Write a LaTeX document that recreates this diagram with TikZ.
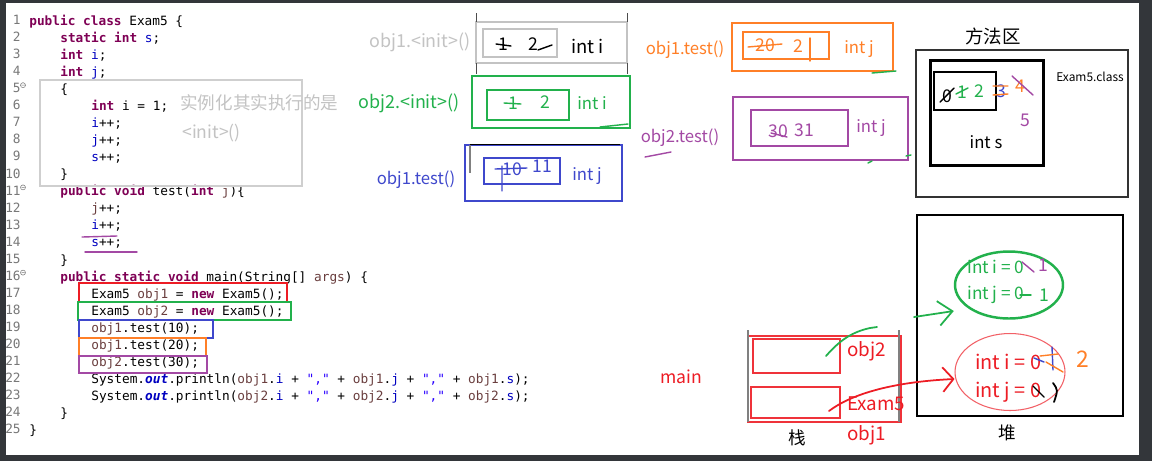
\documentclass[tikz,border=0pt]{standalone}
\usepackage{fontspec}
\setmainfont{Noto Sans CJK SC}
\setmonofont{DejaVu Sans Mono}
\usetikzlibrary{shapes.geometric,positioning,arrows.meta}
\definecolor{kw}{HTML}{7F0055}
\definecolor{fld}{HTML}{0000C0}
\definecolor{loc}{HTML}{6A3E3E}
\definecolor{str}{HTML}{2A00FF}
\definecolor{lno}{HTML}{787878}
\definecolor{jred}{HTML}{ED1C24}
\definecolor{jgreen}{HTML}{22B14C}
\definecolor{jblue}{HTML}{3F48CC}
\definecolor{jorange}{HTML}{FF7F27}
\definecolor{jpurple}{HTML}{A349A4}
\definecolor{jgray}{HTML}{C3C3C3}
\definecolor{darkbg}{HTML}{33363A}
\newcommand{\codefont}{\fontsize{7.27}{9}\ttfamily}
\newcommand{\tagfont}{\fontsize{9.5}{11}\selectfont}
\newcommand{\handfont}{\fontsize{10}{12}\selectfont}
\newcommand{\jkw}[1]{\textcolor{kw}{\bfseries #1}}
\newcommand{\jfd}[1]{\textcolor{fld}{#1}}
\newcommand{\jlv}[1]{\textcolor{loc}{#1}}
\newcommand{\jstr}[1]{\textcolor{str}{#1}}
\newcommand{\jout}[1]{\textcolor{fld}{\bfseries\itshape #1}}
\tikzset{
  code/.style={anchor=west, inner sep=0pt, font=\codefont, text height=1.6ex, text depth=.45ex},
  lnum/.style={anchor=east, inner sep=0pt, text=lno, font=\codefont},
  tag/.style={inner sep=0pt, font=\tagfont},
  hand/.style={inner sep=0pt, font=\handfont},
  box/.style={line width=1.3pt},
  thinbox/.style={line width=0.6pt},
  pen/.style={line width=0.8pt, line cap=round},
}
\begin{document}
\begin{tikzpicture}[x=0.02cm, y=-0.02cm]
\useasboundingbox (0,0) rectangle (1152,461);
% Rahmen
\fill[darkbg] (0,0) rectangle (1152,461);
\fill[white] (6,3) rectangle (1139,455);

% Zeilennummern
\foreach \n in {1,...,25}
  \node[lnum] (ln\n) at (21,{20+17.04*(\n-1)}) {\n};
\foreach \n in {5,11,16}
  \draw[lno, line width=0.3pt] ({23},{17+17.04*(\n-1)}) circle (2.5) ++(-1.5,0) -- ++(3,0);

% Quelltext
\node[code] (c1) at (29,20.0) {\jkw{public} \jkw{class} Exam5 \{};
\node[code] (c2) at (60,37.0) {\jkw{static} \jkw{int} \jfd{s};};
\node[code] (c3) at (60,54.1) {\jkw{int} \jfd{i};};
\node[code] (c4) at (60,71.1) {\jkw{int} \jfd{j};};
\node[code] (c5) at (60,88.2) {\{};
\node[code] (c6) at (91,105.2) {\jkw{int} i = 1;};
\node[code] (c7) at (91,122.2) {\jfd{i}++;};
\node[code] (c8) at (91,139.3) {\jfd{j}++;};
\node[code] (c9) at (91,156.3) {\jfd{s}++;};
\node[code] (c10) at (60,173.4) {\}};
\node[code] (c11) at (60,190.4) {\jkw{public} \jkw{void} test(\jkw{int} \jlv{j})\{};
\node[code] (c12) at (91,207.4) {\jlv{j}++;};
\node[code] (c13) at (91,224.5) {\jfd{i}++;};
\node[code] (c14) at (91,241.5) {\jfd{s}++;};
\node[code] (c15) at (60,258.6) {\}};
\node[code] (c16) at (60,275.6) {\jkw{public} \jkw{static} \jkw{void} main(String[] \jlv{args}) \{};
\node[code] (c17) at (91,292.6) {Exam5 \jlv{obj1} = \jkw{new} Exam5();};
\node[code] (c18) at (91,309.7) {Exam5 \jlv{obj2} = \jkw{new} Exam5();};
\node[code] (c19) at (91,326.7) {\jlv{obj1}.test(10);};
\node[code] (c20) at (91,343.8) {\jlv{obj1}.test(20);};
\node[code] (c21) at (91,360.8) {\jlv{obj2}.test(30);};
\node[code] (c22) at (91,377.8) {System.\jout{out}.println(\jlv{obj1}.\jfd{i} + \jstr{","} + \jlv{obj1}.\jfd{j} + \jstr{","} + \jlv{obj1}.\jfd{s});};
\node[code] (c23) at (91,394.9) {System.\jout{out}.println(\jlv{obj2}.\jfd{i} + \jstr{","} + \jlv{obj2}.\jfd{j} + \jstr{","} + \jlv{obj2}.\jfd{s});};
\node[code] (c24) at (60,411.9) {\}};
\node[code] (c25) at (29,429.0) {\}};

% Markierungen im Quelltext
\draw[jgray!80, line width=1.1pt] (40,80) rectangle (302,186);
\node[anchor=west, inner sep=0pt, text=jgray, font=\fontsize{10}{12}\selectfont] (note1) at (180,103) {实例化其实执行的是};
\node[anchor=west, inner sep=0pt, text=jgray, font=\fontsize{10}{12}\selectfont] (note2) at (182,133) {<init>()};
\draw[jred, thinbox] (79,283) rectangle (287,302);
\draw[jgreen, box] (78,302) rectangle (291,320);
\draw[jblue, box] (79,320) rectangle (213,338);
\draw[jorange, box] (79,338) rectangle (206,356);
\draw[jpurple, box] (79,356) rectangle (207,373);
\draw[jpurple, pen] (82,237) -- (117,236);
\draw[jpurple, pen] (85,252) -- (137,252);

% Methodenaufrufe (Stapelrahmen)
\node[tag, text=jgray, font=\fontsize{10.2}{12}\selectfont] (lbA) at (420,42) {obj1.<init>()};
\draw[jgray, box] (476,22) rectangle (627,63);
\draw[jgray, box] (483,29) rectangle (557,57);
\draw[black!70, line width=0.5pt] (476,13) -- (476,22) (476,63) -- (476,74)
  (627,13) -- (627,22) (627,63) -- (627,74);
\node[tag, anchor=west, font=\fontsize{10.5}{12}\selectfont] (vA) at (571,46) {int i};
\node[hand] (hA1) at (503,44) {1};
\draw[pen] (496,44) -- (511,46);
\node[hand] (hA2) at (533,44) {2};
\draw[pen] (538,50) -- (552,45);

\node[tag, text=jgreen, font=\fontsize{10.2}{12}\selectfont] (lbB) at (409,103) {obj2.<init>()};
\draw[jgreen, box] (472,76) rectangle (630,128);
\draw[jgreen, box] (487,90) rectangle (569,120);
\node[tag, anchor=west, text=jgreen] (vB) at (577,103) {int i};
\node[hand, text=jgreen] (hB1) at (513,103) {1};
\draw[jgreen, pen] (504,103) -- (521,104);
\node[hand, text=jgreen] (hB2) at (545,102) {2};
\draw[jgreen, pen] (600,127) -- (628,124);

\node[tag, text=jblue] (lbC) at (416,180) {obj1.test()};
\draw[jblue, box] (465,145) rectangle (622,201);
\draw[black, line width=0.5pt] (470,144) -- (620,144);
\draw[gray, line width=0.8pt] (470,145) -- (470,173);
\draw[jblue, box] (484,158) rectangle (560,184);
\node[tag, anchor=west, text=jblue] (vC) at (572,176) {int j};
\node[hand, text=jblue] (hC1) at (512,169) {10};
\draw[jblue, pen] (495,169) -- (527,168) (502,166) -- (502,191);
\node[hand, text=jblue] (hC2) at (542,166) {11};

\node[tag, text=jorange] (lbD) at (685,50) {obj1.test()};
\draw[jorange, box] (732,23) rectangle (893,71);
\draw[jorange, box] (743,32) rectangle (829,59);
\node[tag, anchor=west, text=jorange] (vD) at (844,49) {int j};
\node[hand, text=jorange] (hD1) at (765,45) {20};
\draw[jorange, pen] (748,47) -- (782,44);
\node[hand, text=jorange] (hD2) at (798,46) {2};
\draw[jorange, pen] (810,38) -- (810,61);
\draw[jgreen, pen] (872,73) -- (896,71);

\node[tag, text=jpurple] (lbE) at (680,138) {obj2.test()};
\draw[jpurple, pen] (645,157) -- (671,152);
\draw[jpurple, box] (733,97) rectangle (908,160);
\draw[jpurple, box] (751,110) rectangle (848,146);
\node[tag, anchor=west, text=jpurple] (vE) at (856,128) {int j};
\node[hand, text=jpurple] (hE1) at (778,131) {30};
\draw[jpurple, pen] (771,133) -- (787,137);
\node[hand, text=jpurple] (hE2) at (804,130) {31};
\draw[jgreen, pen] (868,163) -- (872,161) (906,156) -- (911,155);

% Methodenbereich
\node[font=\fontsize{10.5}{12}\selectfont, inner sep=0pt] (mArea) at (993,36) {方法区};
\draw[black!80, thinbox] (916,50) rectangle (1128,197);
\draw[black, line width=1.7pt] (930,60) rectangle (1043,165);
\draw[black, line width=1.2pt] (934,72) rectangle (996,110);
\node[font=\fontsize{6.8}{8}\selectfont, inner sep=0pt] (cls) at (1090,77) {Exam5.class};
\node[tag] (vS) at (986,142) {int s};
\node[hand] (hS0) at (947,96) {0};
\draw[pen] (940,102) -- (954,88);
\node[hand, text=jgreen] (hS1) at (962,92) {1};
\draw[jgreen, pen] (956,94) -- (968,88);
\node[hand, text=jgreen] (hS2) at (979,91) {2};
\node[hand, text=jblue] (hS3) at (1001,91) {3};
\draw[jorange, pen] (993,86) -- (1008,86) (993,95) -- (1008,94);
\node[hand, text=jorange] (hS4) at (1020,86) {4};
\draw[jpurple, pen] (1012,76) -- (1033,95);
\node[hand, text=jpurple] (hS5) at (1025,120) {5};

% Heap
\draw[black, thinbox] (917,215) rectangle (1123,416);
\node[draw=jgreen, line width=1.4pt, ellipse, minimum width=2.16cm, minimum height=1.34cm] (objB) at (1009,285) {};
\node[anchor=west, inner sep=0pt, text=jgreen, font=\fontsize{9.8}{11}\selectfont] (bi) at (967,267) {int i = 0};
\draw[jpurple, pen] (1022,262) -- (1034,272);
\node[hand, text=jpurple] (bi1) at (1043,265) {1};
\node[anchor=west, inner sep=0pt, text=jgreen, font=\fontsize{9.8}{11}\selectfont] (bj) at (967,295) {int j = 0};
\draw[jgreen, pen] (1020,295) -- (1031,295);
\node[hand, text=jgreen] (bj1) at (1044,295) {1};

\node[draw=jred!70, line width=0.6pt, ellipse, minimum width=2.2cm, minimum height=1.54cm] (objA) at (1010,372) {};
\node[anchor=west, inner sep=0pt, text=jred, font=\fontsize{11.3}{13}\selectfont] (ai) at (975,362) {int i = 0};
\draw[jblue, pen] (1034,358) -- (1044,362) (1052,347) -- (1053,370);
\draw[jorange, pen] (1040,356) -- (1058,354) (1046,362) -- (1063,372);
\node[font=\fontsize{13}{14}\selectfont, inner sep=0pt, text=jorange] (ai2) at (1083,359) {2};
\node[anchor=west, inner sep=0pt, text=jred, font=\fontsize{11.3}{13}\selectfont] (aj) at (975,392) {int j = 0};
\draw[pen] (1033,386) -- (1044,397);
\draw[pen, line width=1pt] (1053,383) .. controls (1058,390) .. (1054,402);
\node[font=\fontsize{10}{12}\selectfont, inner sep=0pt] (heap) at (1007,433) {堆};

% Stack
\node[text=jred, font=\fontsize{10}{12}\selectfont, inner sep=0pt] (mainlb) at (681,377) {main};
\draw[jred!90, thinbox] (748,336) rectangle (901,422);
\draw[gray, line width=0.8pt] (748,330) -- (748,422) (899,330) -- (899,422);
\draw[jred!90, thinbox] (753,339) rectangle (840,373);
\draw[jred!90, thinbox] (751,387) rectangle (840,418);
\coordinate (slot2) at (826,356);
\coordinate (slot1) at (829,411);
\node[anchor=west, inner sep=0pt, text=jred, font=\fontsize{10.7}{12}\selectfont] (o2) at (847,351) {obj2};
\node[anchor=west, inner sep=0pt, text=jred, font=\fontsize{10.7}{12}\selectfont] (o5) at (847,404) {Exam5};
\node[anchor=west, inner sep=0pt, text=jred, font=\fontsize{10.7}{12}\selectfont] (o1) at (847,435) {obj1};
\node[font=\fontsize{10}{12}\selectfont, inner sep=0pt] (stack) at (797,438) {栈};

% Verweise
\coordinate (g1) at (870,328);
\coordinate (g2) at (914,317);
\draw[jgreen, pen, line width=1pt] (slot2) .. controls (840,340) and (852,332) .. (g1) -- (877,327);
\draw[jgreen, pen, line width=1pt, -{Straight Barb[length=8pt, width=14pt]}] (g2) -- (objB.west |- 0,311);
\draw[jred, pen, line width=1pt, -{Straight Barb[length=6pt, width=14pt]}] (slot1) .. controls (850,395) and (890,382) .. (objA.west |- 0,379);
\end{tikzpicture}
\end{document}
